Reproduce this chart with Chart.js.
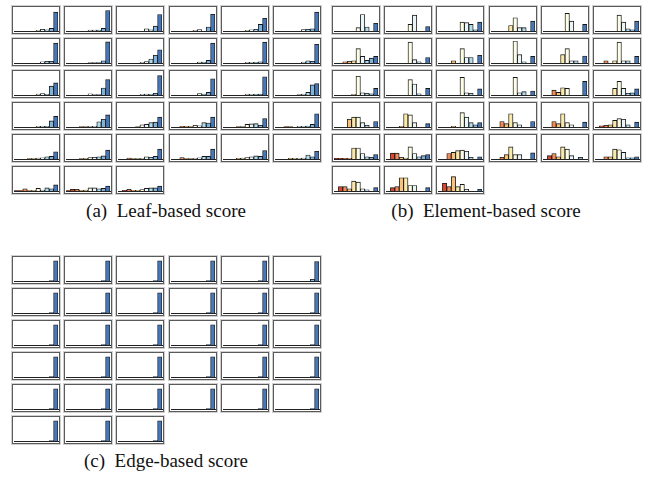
<!DOCTYPE html>
<html>
<head>
<meta charset="utf-8">
<script src="https://cdn.jsdelivr.net/npm/chart.js@4/dist/chart.umd.min.js"></script>
<style>
  html, body { margin: 0; padding: 0; background: #fff; }
  #fig { position: relative; width: 648px; height: 485px; overflow: hidden; }
  .cell { position: absolute; width: 46px; height: 26px; border: 1px solid #5a5a5a;
          box-shadow: 0 0 0 1px #d0d0d0; background: #fff; }
  .cell canvas { display: block; }
  .cap { position: absolute; font-family: "Liberation Serif", "DejaVu Serif", serif;
         font-size: 19px; color: #111; white-space: pre; transform: translateX(-50%); }
</style>
</head>
<body>
<div id="fig"></div>
<script>
// Score bins (0 = lowest, 9 = highest)
const binLabels = ['0.0', '0.1', '0.2', '0.3', '0.4', '0.5', '0.6', '0.7', '0.8', '0.9'];

// Diverging colour per bin: red → yellow → pale → blue
const binColors = ['#b8312a', '#d9472e', '#f08a5a', '#f9c27a', '#fbe9aa',
                   '#fefde6', '#e9f5f9', '#b2dcec', '#7fb3d9', '#4677b8'];

// Histogram heights (% of panel height) for each of the 33 items, per score type
const leafScores = [
  [0, 0, 0, 0, 0, 3, 8, 5, 12, 86],
  [0, 0, 0, 0, 0, 4, 4, 4, 12, 93],
  [0, 0, 0, 0, 0, 0, 10, 5, 22, 75],
  [0, 0, 0, 0, 0, 3, 6, 0, 18, 76],
  [0, 0, 0, 0, 0, 3, 5, 8, 30, 58],
  [0, 0, 0, 0, 0, 0, 6, 8, 10, 86],
  [0, 0, 0, 0, 0, 0, 5, 8, 8, 90],
  [0, 0, 0, 0, 0, 2, 2, 2, 10, 96],
  [0, 0, 0, 0, 0, 3, 6, 18, 35, 60],
  [0, 0, 0, 0, 0, 0, 4, 4, 12, 90],
  [0, 0, 0, 0, 0, 3, 3, 3, 5, 95],
  [0, 0, 0, 0, 0, 0, 4, 10, 8, 85],
  [0, 0, 0, 0, 0, 4, 6, 3, 40, 55],
  [0, 0, 0, 0, 0, 5, 2, 2, 32, 70],
  [0, 0, 0, 0, 0, 3, 4, 3, 8, 88],
  [0, 0, 0, 0, 0, 0, 6, 4, 12, 74],
  [0, 0, 0, 0, 0, 4, 3, 3, 4, 83],
  [0, 0, 0, 0, 0, 2, 4, 12, 46, 52],
  [0, 0, 0, 0, 0, 3, 3, 3, 28, 48],
  [0, 0, 0, 2, 2, 3, 3, 24, 35, 55],
  [0, 0, 0, 0, 2, 10, 12, 20, 22, 45],
  [0, 0, 3, 3, 2, 8, 5, 20, 18, 45],
  [0, 0, 0, 2, 2, 12, 14, 15, 8, 38],
  [0, 0, 2, 2, 0, 3, 3, 4, 12, 60],
  [0, 0, 0, 2, 3, 4, 5, 10, 12, 33],
  [0, 0, 0, 2, 3, 6, 8, 10, 14, 40],
  [0, 0, 4, 2, 2, 3, 10, 8, 12, 45],
  [0, 0, 6, 2, 2, 3, 5, 12, 12, 45],
  [0, 0, 0, 3, 4, 6, 10, 14, 12, 38],
  [0, 0, 0, 3, 3, 3, 4, 18, 10, 35],
  [2, 2, 10, 2, 3, 12, 4, 14, 10, 28],
  [2, 8, 8, 3, 4, 14, 14, 10, 12, 22],
  [0, 3, 8, 3, 3, 6, 12, 14, 14, 22]
];

const elementScores = [
  [0, 0, 0, 0, 0, 15, 75, 18, 0, 35],
  [0, 0, 0, 0, 0, 30, 72, 0, 0, 20],
  [0, 0, 0, 0, 0, 40, 38, 30, 5, 40],
  [0, 0, 0, 0, 25, 60, 15, 15, 0, 45],
  [0, 0, 0, 0, 0, 80, 45, 0, 0, 30],
  [0, 0, 0, 0, 0, 72, 40, 10, 5, 45],
  [0, 0, 5, 8, 10, 65, 30, 12, 22, 30],
  [0, 0, 0, 0, 0, 95, 15, 5, 0, 25],
  [0, 0, 0, 10, 0, 65, 25, 25, 0, 35],
  [0, 0, 0, 0, 0, 100, 38, 5, 0, 30],
  [0, 0, 0, 0, 38, 65, 10, 10, 0, 32],
  [0, 0, 10, 0, 10, 95, 10, 10, 0, 30],
  [0, 0, 0, 0, 3, 85, 10, 8, 5, 30],
  [0, 0, 0, 0, 0, 70, 50, 5, 0, 30],
  [0, 0, 0, 0, 0, 80, 10, 8, 0, 28],
  [0, 0, 0, 0, 0, 80, 10, 15, 0, 18],
  [0, 0, 22, 12, 33, 30, 0, 0, 0, 62],
  [0, 0, 0, 0, 30, 62, 30, 8, 10, 28],
  [0, 0, 0, 35, 45, 45, 20, 8, 0, 25],
  [0, 0, 0, 3, 60, 55, 20, 0, 0, 15],
  [0, 0, 0, 3, 0, 65, 45, 20, 10, 20],
  [0, 0, 25, 15, 60, 20, 10, 0, 0, 25],
  [0, 0, 25, 15, 60, 20, 10, 0, 0, 22],
  [0, 5, 8, 10, 30, 38, 35, 10, 0, 22],
  [3, 3, 3, 3, 50, 50, 25, 10, 8, 20],
  [0, 27, 27, 8, 4, 55, 25, 10, 15, 20],
  [0, 0, 25, 30, 38, 40, 35, 8, 0, 10],
  [0, 0, 8, 20, 55, 20, 20, 0, 0, 28],
  [0, 15, 25, 10, 55, 45, 15, 0, 8, 0],
  [0, 0, 10, 10, 45, 42, 30, 5, 5, 10],
  [0, 20, 20, 10, 45, 40, 10, 5, 0, 15],
  [0, 15, 20, 60, 60, 25, 25, 0, 0, 15],
  [0, 35, 20, 65, 20, 30, 8, 0, 0, 8]
];

const edgeScores = [
  [0, 0, 0, 0, 0, 0, 0, 0, 2, 92],
  [0, 0, 0, 0, 0, 0, 0, 0, 2, 92],
  [0, 0, 0, 0, 0, 0, 0, 0, 2, 92],
  [0, 0, 0, 0, 0, 0, 0, 0, 2, 92],
  [0, 0, 0, 0, 0, 0, 0, 0, 2, 92],
  [0, 0, 0, 0, 0, 0, 0, 0, 8, 88],
  [0, 0, 0, 0, 0, 0, 0, 0, 2, 92],
  [0, 0, 0, 0, 0, 0, 0, 0, 2, 92],
  [0, 0, 0, 0, 0, 0, 0, 0, 2, 92],
  [0, 0, 0, 0, 0, 0, 0, 0, 2, 92],
  [0, 0, 0, 0, 0, 0, 0, 0, 2, 92],
  [0, 0, 0, 0, 0, 0, 0, 0, 2, 92],
  [0, 0, 0, 0, 0, 0, 0, 0, 2, 92],
  [0, 0, 0, 0, 0, 0, 0, 0, 2, 92],
  [0, 0, 0, 0, 0, 0, 0, 0, 2, 92],
  [0, 0, 0, 0, 0, 0, 0, 0, 2, 92],
  [0, 0, 0, 0, 0, 0, 0, 0, 2, 92],
  [0, 0, 0, 0, 0, 0, 0, 0, 2, 92],
  [0, 0, 0, 0, 0, 0, 0, 0, 2, 92],
  [0, 0, 0, 0, 0, 0, 0, 0, 2, 92],
  [0, 0, 0, 0, 0, 0, 0, 0, 2, 92],
  [0, 0, 0, 0, 0, 0, 0, 0, 2, 92],
  [0, 0, 0, 0, 0, 0, 0, 0, 2, 92],
  [0, 0, 0, 0, 0, 0, 0, 0, 2, 92],
  [0, 0, 0, 0, 0, 0, 0, 0, 2, 92],
  [0, 0, 0, 0, 0, 0, 0, 0, 2, 92],
  [0, 0, 0, 0, 0, 0, 0, 0, 2, 92],
  [0, 0, 0, 0, 0, 0, 0, 0, 2, 92],
  [0, 0, 0, 0, 0, 0, 0, 0, 2, 92],
  [0, 0, 0, 0, 0, 0, 0, 0, 2, 92],
  [0, 0, 0, 0, 0, 0, 0, 0, 2, 92],
  [0, 0, 0, 0, 0, 0, 0, 0, 2, 92],
  [0, 0, 0, 0, 0, 0, 0, 0, 2, 92]
];

const captions = ['(a)  Leaf-based score', '(b)  Element-based score', '(c)  Edge-based score'];

const fig = document.getElementById('fig');

function smallHistogram(left, top, values) {
  const cell = document.createElement('div');
  cell.className = 'cell';
  cell.style.left = left + 'px';
  cell.style.top = top + 'px';
  const canvas = document.createElement('canvas');
  canvas.width = 46;
  canvas.height = 26;
  cell.appendChild(canvas);
  fig.appendChild(cell);
  new Chart(canvas, {
    type: 'bar',
    data: {
      labels: binLabels,
      datasets: [{
        data: values,
        backgroundColor: binColors,
        borderColor: '#161616',
        borderWidth: 0.9,
        barPercentage: 1,
        categoryPercentage: 1
      }]
    },
    options: {
      responsive: false,
      animation: false,
      devicePixelRatio: 1,
      events: [],
      layout: { padding: { left: 1, right: 1, top: 2, bottom: 2 } },
      plugins: { legend: { display: false }, tooltip: { enabled: false } },
      scales: {
        x: {
          display: true,
          grid: { display: false, drawTicks: false },
          ticks: { display: false },
          border: { display: true, color: '#222', width: 1 }
        },
        y: { display: false, min: 0, max: 100 }
      }
    }
  });
}

function panel(x0, y0, scores) {
  scores.forEach((values, i) => {
    const col = i % 6, row = Math.floor(i / 6);
    smallHistogram(Math.round(x0 + col * 52.2), y0 + row * 32, values);
  });
}

function caption(cx, top, text) {
  const el = document.createElement('div');
  el.className = 'cap';
  el.style.left = cx + 'px';
  el.style.top = top + 'px';
  el.textContent = text;
  fig.appendChild(el);
}

panel(12, 6, leafScores);
panel(332, 6, elementScores);
panel(12, 256, edgeScores);

caption(166, 200, captions[0]);
caption(486, 200, captions[1]);
caption(166, 450, captions[2]);
</script>
</body>
</html>
